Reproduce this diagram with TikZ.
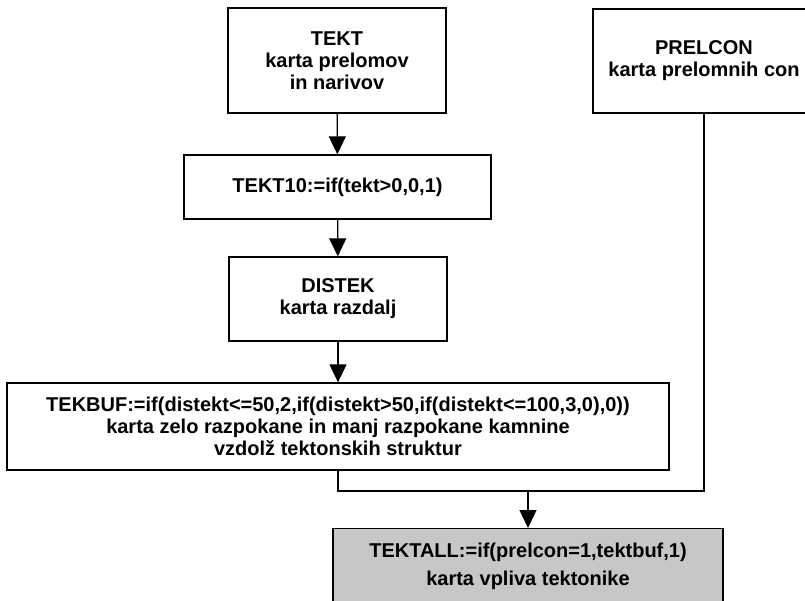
\documentclass[tikz,border=0pt]{standalone}
\usepackage{fontspec}
\setmainfont{Liberation Sans}
\usetikzlibrary{arrows.meta, positioning}

\begin{document}
\begin{tikzpicture}[x=1pt, y=-1pt,
  box/.style={draw, line width=1.3pt, align=center, inner sep=0pt,
    font=\fontsize{20}{22}\selectfont\bfseries},
  line/.style={line width=1.3pt},
  arr/.style={line, -{Triangle[length=18pt, width=17pt]}}
]
\useasboundingbox (0,0) rectangle (805,601);
\node[box, minimum width=218, minimum height=105] (tekt) at (337,60.5) {TEKT\\karta prelomov\\in narivov};
\node[box, minimum width=222, minimum height=104] (prelcon) at (704,61) {PRELCON\\karta prelomnih con};
\node[box, minimum width=307, minimum height=64] (tekt10) at (337.5,187) {TEKT10:=if(tekt>0,0,1)};
\node[box, minimum width=218, minimum height=84] (distek) at (338,299) {DISTEK\\karta razdalj};
\node[box, minimum width=662, minimum height=87] (tekbuf) at (338,426.5) {TEKBUF:=if(distekt<=50,2,if(distekt>50,if(distekt<=100,3,0),0))\\karta zelo razpokane in manj razpokane kamnine\\vzdolž tektonskih struktur};
\node[box, fill=black!22, anchor=north, minimum width=390, inner ysep=14pt,
  font=\fontsize{20}{28}\selectfont\bfseries,
  text height=43pt, text depth=60pt] (tektall) at (528,528) {TEKTALL:=if(prelcon=1,tektbuf,1)\\karta vpliva tektonike};
\coordinate (join) at (528,491);

\draw[arr] (tekt) -- (tekt10);
\draw[arr] (tekt10) -- (distek);
\draw[arr] (distek) -- (tekbuf);
\draw[line] (tekbuf.south) |- (join);
\draw[line] (prelcon.south) |- (join);
\draw[arr] (join) -- (tektall.north);
\end{tikzpicture}
\end{document}
